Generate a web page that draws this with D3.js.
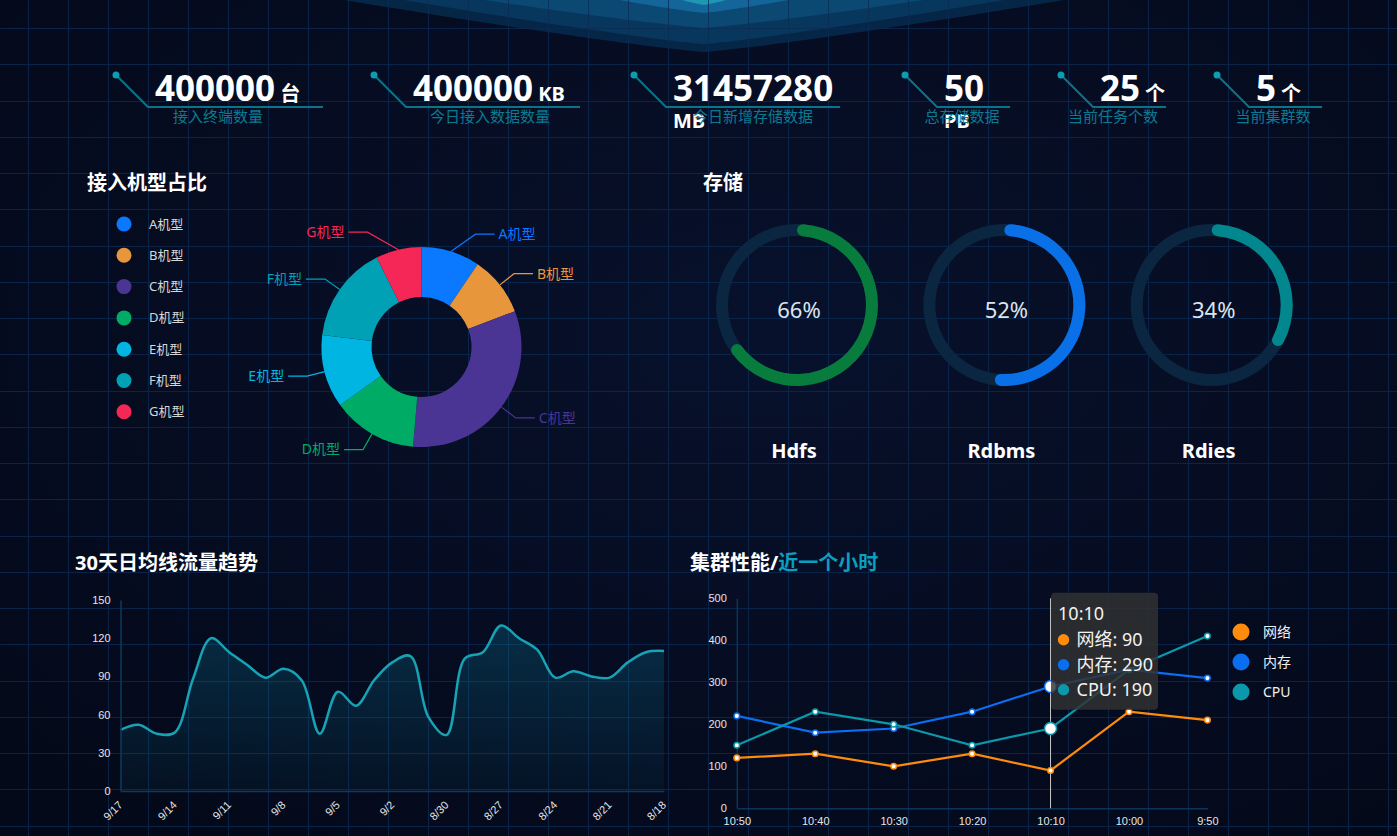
<!DOCTYPE html>
<html lang="zh">
<head>
<meta charset="utf-8">
<title>大数据监控</title>
<script src="https://d3js.org/d3.v7.min.js"></script>
<style>
  html, body { margin: 0; padding: 0; background: #050b20; overflow: hidden; }
  svg { display: block; font-family: "Noto Sans", "Noto Sans CJK SC", sans-serif; }
</style>
</head>
<body>
<svg id="screen" width="1397" height="836"></svg>
<script>
// ---- data ----
var statValues = [400000, 400000, 31457280, 50, 25, 5];
var statUnits = ["台", "KB", "MB", "PB", "个", "个"];
var statLabels = ["接入终端数量", "今日接入数据数量", "今日新增存储数据", "总存储数据", "当前任务个数", "当前集群数"];

var pieNames = ["A机型", "B机型", "C机型", "D机型", "E机型", "F机型", "G机型"];
var pieValues = [95, 97, 322, 138, 118, 157, 74];
var pieColors = ["#0a78ff", "#e8963c", "#4a3594", "#00ab66", "#00b5e2", "#00a0b5", "#f42757"];

var storageNames = ["Hdfs", "Rdbms", "Rdies"];
var storagePercents = [66, 52, 34];
var storageColors = ["#087c3c", "#0a70e8", "#03878f"];

var trafficDates = ["9/17", "9/16", "9/15", "9/14", "9/13", "9/12", "9/11", "9/10", "9/9", "9/8",
  "9/7", "9/6", "9/5", "9/4", "9/3", "9/2", "9/1", "8/31", "8/30", "8/29",
  "8/28", "8/27", "8/26", "8/25", "8/24", "8/23", "8/22", "8/21", "8/20", "8/19", "8/18"];
var trafficValues = [48, 52, 45, 46, 88, 120, 109, 99, 89, 96,
  87, 45, 78, 67, 87, 101, 106, 58, 44, 104,
  109, 130, 120, 111, 89, 94, 90, 89, 101, 109, 110];
var trafficTicks = [0, 30, 60, 90, 120, 150];

var clusterTimes = ["10:50", "10:40", "10:30", "10:20", "10:10", "10:00", "9:50"];
var clusterNames = ["网络", "内存", "CPU"];
var netValues = [120, 130, 100, 130, 90, 230, 210];
var memValues = [220, 180, 190, 230, 290, 330, 310];
var cpuValues = [150, 230, 200, 150, 190, 330, 410];
var clusterColors = ["#ff8b0d", "#0a6ef0", "#0a98aa"];
var clusterTicks = [0, 100, 200, 300, 400, 500];
var tooltipIndex = 4;

// layout of the stat boxes along the top
var statLayout = [
  { dot: 116, end: 323, label: 218 },
  { dot: 374, end: 580, label: 490 },
  { dot: 634, end: 840, label: 753 },
  { dot: 905, end: 1010, label: 962 },
  { dot: 1061, end: 1166, label: 1113 },
  { dot: 1217, end: 1322, label: 1273 }
];

var W = 1397, H = 836;
var svg = d3.select("#screen");
var defs = svg.append("defs");

// ---- background ----
var bgGrad = defs.append("radialGradient").attr("id", "bgGrad")
  .attr("cx", "55%").attr("cy", "40%").attr("r", "75%");
bgGrad.append("stop").attr("offset", "0%").attr("stop-color", "#08112c");
bgGrad.append("stop").attr("offset", "100%").attr("stop-color", "#040919");
svg.append("rect").attr("width", W).attr("height", H).attr("fill", "url(#bgGrad)");

// glow at top centre (V shaped bands)
var glowLayers = [
  { half: 360, apex: 52, color: "#072b4d", op: 0.85 },
  { half: 300, apex: 44, color: "#093a60", op: 0.9 },
  { half: 220, apex: 28, color: "#0c4a74", op: 0.95 },
  { half: 85, apex: 13, color: "#13659a", op: 1 },
  { half: 22, apex: 5, color: "#1d97b2", op: 1 }
];
glowLayers.forEach(function(g) {
  var pts = d3.range(-1, 1.0001, 0.05).map(function(t) {
    return [704 + t * g.half, g.apex * (1 - Math.pow(Math.abs(t), 1.15))];
  });
  svg.append("path")
    .attr("d", d3.line().curve(d3.curveMonotoneX)(pts) + "Z")
    .attr("fill", g.color)
    .attr("opacity", g.op);
});

// grid
var grid = svg.append("g").attr("stroke", "#0c2b55").attr("stroke-width", 1).attr("opacity", 0.75);
for (var gx = 28; gx < W; gx += 40) {
  grid.append("line").attr("x1", gx + 0.5).attr("x2", gx + 0.5).attr("y1", 0).attr("y2", H);
}
for (var gy = 28; gy < H; gy += 36.25) {
  grid.append("line").attr("x1", 0).attr("x2", W).attr("y1", Math.round(gy) + 0.5).attr("y2", Math.round(gy) + 0.5);
}

// ---- stats ----
statValues.forEach(function(v, i) {
  var L = statLayout[i];
  var g = svg.append("g");
  g.append("polyline")
    .attr("points", [[L.dot, 75], [L.dot + 32, 107], [L.end, 107]].join(" "))
    .attr("fill", "none").attr("stroke", "#0b7389").attr("stroke-width", 2);
  g.append("circle").attr("cx", L.dot).attr("cy", 75).attr("r", 3.5).attr("fill", "#0b9db2");

  var numX = L.dot + 39;
  var num = g.append("text").attr("x", numX).attr("y", 101)
    .attr("fill", "#ffffff").attr("font-size", 35).attr("font-weight", "bold").text(v);
  var unit = g.append("text").attr("fill", "#ffffff").attr("font-size", 20)
    .attr("font-weight", "bold").text(statUnits[i]);
  var nw = num.node().getComputedTextLength();
  var uw = unit.node().getComputedTextLength();
  if (numX + nw + 5 + uw > L.end + 4) {
    unit.attr("x", numX).attr("y", 128);
  } else {
    unit.attr("x", numX + nw + 5).attr("y", 101);
  }
  g.append("text").attr("x", L.label).attr("y", 122).attr("text-anchor", "middle")
    .attr("fill", "#0b7a90").attr("font-size", 15).text(statLabels[i]);
});

// ---- section titles ----
function title(x, y, parts) {
  var t = svg.append("text").attr("x", x).attr("y", y)
    .attr("font-size", 20).attr("font-weight", "bold");
  parts.forEach(function(p) { t.append("tspan").attr("fill", p[1]).text(p[0]); });
}
title(87, 190, [["接入机型占比", "#ffffff"]]);
title(703, 190, [["存储", "#ffffff"]]);
title(75, 570, [["30天日均线流量趋势", "#ffffff"]]);
title(690, 570, [["集群性能/", "#ffffff"], ["近一个小时", "#0a9fbf"]]);

// ---- pie ----
var legend = svg.append("g");
pieNames.forEach(function(n, i) {
  var cy = 224 + i * 31.3;
  legend.append("circle").attr("cx", 124).attr("cy", cy).attr("r", 7.5).attr("fill", pieColors[i]);
  legend.append("text").attr("x", 149).attr("y", cy).attr("dy", "0.35em")
    .attr("fill", "#d6d6d6").attr("font-size", 13).text(n);
});

var pcx = 421.5, pcy = 347, rIn = 50, rOut = 100;
var pie = d3.pie().sort(null).value(function(d) { return d; });
var arcs = pie(pieValues);
var arc = d3.arc().innerRadius(rIn).outerRadius(rOut);
var pg = svg.append("g").attr("transform", "translate(" + pcx + "," + pcy + ")");
pg.selectAll("path.slice").data(arcs).enter().append("path")
  .attr("class", "slice")
  .attr("d", arc)
  .attr("fill", function(d, i) { return pieColors[i]; });

arcs.forEach(function(d, i) {
  var mid = (d.startAngle + d.endAngle) / 2;
  var s = Math.sin(mid), c = Math.cos(mid);
  var side = s >= 0 ? 1 : -1;
  var p1 = [rOut * s, -rOut * c];
  var dx = 118 * s;
  if (Math.abs(dx) < 54) dx = side * 54;
  var p2 = [dx, -118 * c];
  var p3 = [p2[0] + side * 19, p2[1]];
  pg.append("polyline").attr("points", [p1, p2, p3].join(" "))
    .attr("fill", "none").attr("stroke", pieColors[i]).attr("stroke-width", 1.2);
  pg.append("text").attr("x", p3[0] + side * 4).attr("y", p3[1]).attr("dy", "0.35em")
    .attr("text-anchor", side > 0 ? "start" : "end")
    .attr("fill", pieColors[i]).attr("font-size", 14).text(pieNames[i]);
});

// ---- storage gauges ----
var gaugeX = d3.scalePoint().domain(storageNames).range([797, 1211.7]);
var ringBg = d3.arc().innerRadius(69).outerRadius(81).startAngle(0).endAngle(2 * Math.PI);
var ringFg = d3.arc().innerRadius(69).outerRadius(81).cornerRadius(6).startAngle(0);
storageNames.forEach(function(n, i) {
  var g = svg.append("g").attr("transform", "translate(" + gaugeX(n) + ",305)");
  g.append("path").attr("d", ringBg()).attr("fill", "#0b2640");
  g.append("path").attr("d", ringFg.endAngle(storagePercents[i] / 100 * 2 * Math.PI)())
    .attr("fill", storageColors[i]);
  g.append("text").attr("x", 2).attr("y", 13).attr("text-anchor", "middle")
    .attr("fill", "#dde4ec").attr("font-size", 22).text(storagePercents[i] + "%");
  g.append("text").attr("x", -3).attr("y", 153).attr("text-anchor", "middle")
    .attr("fill", "#ffffff").attr("font-size", 20).attr("font-weight", "bold").text(n);
});

// ---- 30 day traffic line ----
var tx = d3.scalePoint().domain(trafficDates).range([120.5, 664]);
var ty = d3.scaleLinear().domain([0, 150]).range([791, 600]);
var areaGrad = defs.append("linearGradient").attr("id", "areaGrad")
  .attr("x1", 0).attr("y1", 0).attr("x2", 0).attr("y2", 1);
areaGrad.append("stop").attr("offset", "0%").attr("stop-color", "#0a9fc0").attr("stop-opacity", 0.22);
areaGrad.append("stop").attr("offset", "100%").attr("stop-color", "#0a9fc0").attr("stop-opacity", 0.05);

var tg = svg.append("g");
tg.append("path")
  .datum(trafficValues)
  .attr("d", d3.area().curve(d3.curveCatmullRom.alpha(0.5))
    .x(function(d, i) { return tx(trafficDates[i]); })
    .y0(ty(0)).y1(function(d) { return ty(d); }))
  .attr("fill", "url(#areaGrad)");
tg.append("path")
  .datum(trafficValues)
  .attr("d", d3.line().curve(d3.curveCatmullRom.alpha(0.5))
    .x(function(d, i) { return tx(trafficDates[i]); })
    .y(function(d) { return ty(d); }))
  .attr("fill", "none").attr("stroke", "#16a3b6").attr("stroke-width", 2.5);

var tyAxis = tg.append("g").attr("transform", "translate(120.5,0)")
  .call(d3.axisLeft(ty).tickValues(trafficTicks).tickSize(0).tickPadding(10));
var txAxis = tg.append("g").attr("transform", "translate(0,791)")
  .call(d3.axisBottom(tx).tickValues(trafficDates.filter(function(d, i) { return i % 3 === 0; }))
    .tickSize(0).tickPadding(8));
txAxis.selectAll("text")
  .attr("text-anchor", "end")
  .attr("transform", "translate(0,4) rotate(-45)")
  .attr("dy", "0.35em").attr("y", 0).attr("x", 0);
txAxis.selectAll(".tick").attr("transform", function(d) { return "translate(" + tx(d) + ",8)"; });
[tyAxis, txAxis].forEach(function(a) {
  a.select(".domain").attr("stroke", "#0c3a5e").attr("stroke-width", 1.5);
  a.selectAll("text").attr("fill", "#e6e6e6").attr("font-size", 11).attr("font-family", "inherit");
});

// ---- cluster performance ----
var cx = d3.scalePoint().domain(clusterTimes).range([736.8, 1207.4]);
var cy = d3.scaleLinear().domain([0, 500]).range([808.3, 598.3]);
var cg = svg.append("g");
var cyAxis = cg.append("g").attr("transform", "translate(736.8,0)")
  .call(d3.axisLeft(cy).tickValues(clusterTicks).tickSize(0).tickPadding(10));
var cxAxis = cg.append("g").attr("transform", "translate(0,808.3)")
  .call(d3.axisBottom(cx).tickSize(0).tickPadding(9));
[cyAxis, cxAxis].forEach(function(a) {
  a.select(".domain").attr("stroke", "#0c3358").attr("stroke-width", 1.5);
  a.selectAll("text").attr("fill", "#e6e6e6").attr("font-size", 11).attr("font-family", "inherit");
});

// tooltip pointer line
var tipX = cx(clusterTimes[tooltipIndex]);
cg.append("line").attr("x1", tipX).attr("x2", tipX).attr("y1", cy(500)).attr("y2", cy(0))
  .attr("stroke", "#c8c8c8").attr("stroke-width", 1);

var clusterSeries = [netValues, memValues, cpuValues];
var cline = d3.line().x(function(d, i) { return cx(clusterTimes[i]); }).y(function(d) { return cy(d); });
clusterSeries.forEach(function(vals, k) {
  cg.append("path").datum(vals).attr("d", cline)
    .attr("fill", "none").attr("stroke", clusterColors[k]).attr("stroke-width", 2.2);
});
clusterSeries.forEach(function(vals, k) {
  var big = function(i) { return i === tooltipIndex && k > 0; };
  cg.selectAll("circle.s" + k).data(vals).enter().append("circle")
    .attr("class", "s" + k)
    .attr("cx", function(d, i) { return cx(clusterTimes[i]); })
    .attr("cy", function(d) { return cy(d); })
    .attr("r", function(d, i) { return big(i) ? 6 : 2.8; })
    .attr("fill", "#ffffff")
    .attr("stroke", clusterColors[k])
    .attr("stroke-width", 1.5);
});

// legend
clusterNames.forEach(function(n, k) {
  var ly = 632 + k * 30;
  cg.append("circle").attr("cx", 1241).attr("cy", ly).attr("r", 8.5).attr("fill", clusterColors[k]);
  cg.append("text").attr("x", 1263).attr("y", ly).attr("dy", "0.35em")
    .attr("fill", "#f0f0f0").attr("font-size", 14).text(n);
});

// tooltip box
var tip = cg.append("g").attr("transform", "translate(" + (tipX + 0.5) + "," + (cy(500) - 5.5) + ")");
tip.append("rect").attr("width", 107).attr("height", 117).attr("rx", 4)
  .attr("fill", "rgb(50,50,50)").attr("fill-opacity", 0.82);
tip.append("text").attr("x", 7).attr("y", 27).attr("fill", "#f2f2f2").attr("font-size", 18)
  .text(clusterTimes[tooltipIndex]);
clusterSeries.forEach(function(vals, k) {
  var ry = 47 + k * 25;
  tip.append("circle").attr("cx", 12.5).attr("cy", ry).attr("r", 5.7).attr("fill", clusterColors[k]);
  tip.append("text").attr("x", 25.5).attr("y", ry).attr("dy", "0.35em")
    .attr("fill", "#f2f2f2").attr("font-size", 18)
    .text(clusterNames[k] + ": " + vals[tooltipIndex]);
});
</script>
</body>
</html>
